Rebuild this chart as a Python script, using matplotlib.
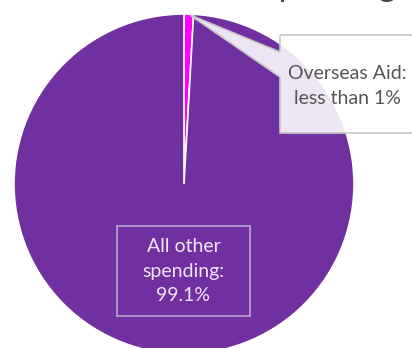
import matplotlib
matplotlib.use("Agg")
import matplotlib.pyplot as plt
from matplotlib.patches import Polygon, Rectangle

# data
labels = ["Overseas Aid", "All other spending"]
shares = [0.9, 99.1]
colors = ["#FF00FF", "#7030A0"]

plt.rcParams['font.family'] = ['Lato', 'DejaVu Sans']

W, H = 412, 348
fig = plt.figure(figsize=(W / 100, H / 100), dpi=100)
ax = fig.add_axes([0, 0, 1, 1])

# pixel (top-left origin) -> data
def px(x, y):
    return (x, H - y)

ax.pie(shares, colors=colors, startangle=90, counterclock=False,
       center=px(184, 184), radius=170,
       wedgeprops=dict(edgecolor="white", linewidth=1.2))

ax.set_xlim(0, W)
ax.set_ylim(0, H)
ax.set_aspect('equal')
ax.axis('off')

# title, mostly cut off at the top
ax.text(396, H + 4, "Overseas Aid as a share of UK spending", ha="right", va="baseline",
        fontsize=24, color="#444444", clip_on=False)

# callout for overseas aid
callout = [px(280, 35), px(416, 35), px(416, 133), px(280, 133),
           px(280, 77), px(190, 15), px(280, 52)]
ax.add_patch(Polygon(callout, closed=True, facecolor="white", alpha=0.88,
                     edgecolor="none", zorder=3))
ax.add_patch(Polygon(callout, closed=True, facecolor="none",
                     edgecolor="#c8c8c8", linewidth=1.2, zorder=4))
ax.text(347, H - 86, "Overseas Aid:\nless than 1%", ha="center", va="center",
        fontsize=14, color="#555555", linespacing=1.55, zorder=5)

# label for the rest
x0, y0 = px(117, 316)
ax.add_patch(Rectangle((x0, y0), 133, 90, facecolor="none", edgecolor="#b8a8c8",
                       linewidth=1.2, zorder=4))
ax.text(183.5, H - 271, "All other\nspending:\n99.1%", ha="center", va="center",
        fontsize=14, color="#f0e6f6", linespacing=1.55, zorder=5)

fig.savefig("out.png", dpi=100)
